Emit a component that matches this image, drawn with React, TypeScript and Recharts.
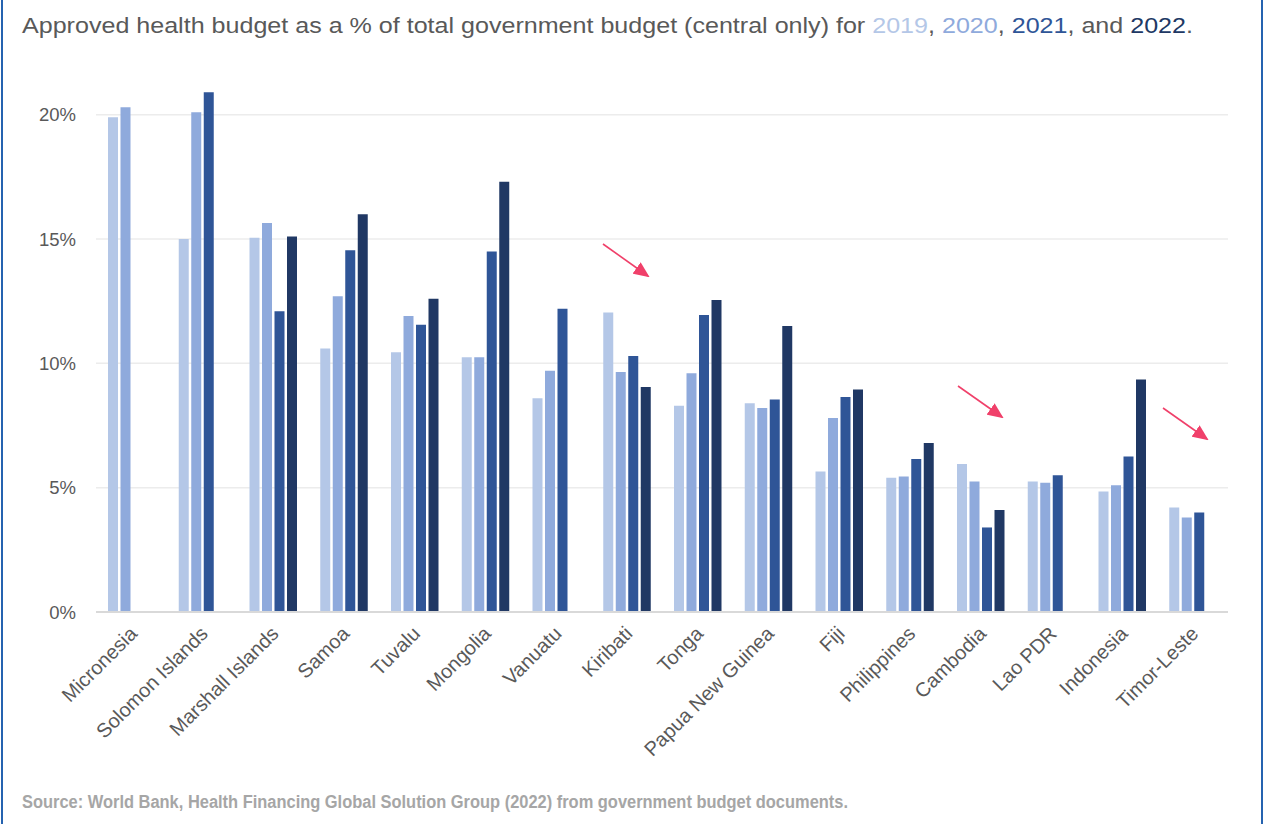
import { BarChart, Bar, XAxis, YAxis, CartesianGrid } from "recharts";

const countries = [
  "Micronesia", "Solomon Islands", "Marshall Islands", "Samoa", "Tuvalu", "Mongolia",
  "Vanuatu", "Kiribati", "Tonga", "Papua New Guinea", "Fiji", "Philippines",
  "Cambodia", "Lao PDR", "Indonesia", "Timor-Leste",
];

// share of budget, %
const y2019 = [19.9, 15.0, 15.05, 10.6, 10.45, 10.25, 8.6, 12.05, 8.3, 8.4, 5.65, 5.4, 5.95, 5.25, 4.85, 4.2];
const y2020 = [20.3, 20.1, 15.65, 12.7, 11.9, 10.25, 9.7, 9.65, 9.6, 8.2, 7.8, 5.45, 5.25, 5.2, 5.1, 3.8];
const y2021 = [null, 20.9, 12.1, 14.55, 11.55, 14.5, 12.2, 10.3, 11.95, 8.55, 8.65, 6.15, 3.4, 5.5, 6.25, 4.0];
const y2022 = [null, null, 15.1, 16.0, 12.6, 17.3, null, 9.05, 12.55, 11.5, 8.95, 6.8, 4.1, null, 9.35, null];

const yTicks = [0, 5, 10, 15, 20];

const data = countries.map((name, i) => ({
  name,
  "2019": y2019[i],
  "2020": y2020[i],
  "2021": y2021[i],
  "2022": y2022[i],
}));

const colors = { "2019": "#b4c7e7", "2020": "#8faadc", "2021": "#2f5597", "2022": "#203864" };

const font = "'Liberation Sans', Arial, sans-serif";

function XTick({ x, y, payload }: any) {
  return (
    <text
      x={x + 2}
      y={y + 10}
      transform={`rotate(-45 ${x + 2} ${y + 10})`}
      textAnchor="end"
      dominantBaseline="central"
      fontSize={20}
      fontFamily={font}
      fill="#595959"
    >
      {payload.value}
    </text>
  );
}

function Arrow({ x1, y1, x2, y2 }: { x1: number; y1: number; x2: number; y2: number }) {
  return (
    <line x1={x1} y1={y1} x2={x2} y2={y2} stroke="#f0406a" strokeWidth={1.6} markerEnd="url(#arrowhead)" />
  );
}

export default function App() {
  return (
    <div style={{ position: "absolute", left: 0, top: 0, width: 1266, height: 824, background: "#fff", fontFamily: font }}>
      <div style={{ position: "absolute", left: 1, top: 0, width: 2, height: 824, background: "#2563b0" }} />
      <div style={{ position: "absolute", left: 1261, top: 0, width: 2, height: 824, background: "#2563b0" }} />
      <BarChart
        width={1266}
        height={824}
        data={data}
        barSize={10}
        barGap={2.5}
        margin={{ top: 65, right: 38, left: 0, bottom: 62 }}
        style={{ position: "absolute", left: 0, top: 0 }}
      >
        <CartesianGrid vertical={false} horizontalValues={yTicks} stroke="#ececec" strokeWidth={1.5} />
        <XAxis
          dataKey="name"
          interval={0}
          height={150}
          tick={<XTick />}
          tickLine={false}
          axisLine={{ stroke: "#d9d9d9", strokeWidth: 2 }}
        />
        <YAxis
          width={96}
          domain={[0, 22]}
          ticks={yTicks}
          tickFormatter={(v) => `${v}%`}
          axisLine={false}
          tickLine={false}
          tickSize={0}
          tickMargin={20}
          tick={{ fontSize: 18.5, fill: "#595959", fontFamily: font }}
        />
        {(["2019", "2020", "2021", "2022"] as const).map((k) => (
          <Bar key={k} dataKey={k} fill={colors[k]} isAnimationActive={false} />
        ))}
      </BarChart>
      <svg width={1266} height={824} style={{ position: "absolute", left: 0, top: 0, pointerEvents: "none" }}>
        <defs>
          <marker id="arrowhead" markerWidth="16" markerHeight="14" refX="14" refY="7" orient="auto" markerUnits="userSpaceOnUse">
            <path d="M0,0 L16,7 L0,14 z" fill="#f0406a" />
          </marker>
        </defs>
        <text x={22} y={33} fontSize={22} fontFamily={font} fill="#595959" textLength={1171} lengthAdjust="spacingAndGlyphs">
          Approved health budget as a % of total government budget (central only) for{" "}
          <tspan fill={colors["2019"]}>2019</tspan>,{" "}
          <tspan fill={colors["2020"]}>2020</tspan>,{" "}
          <tspan fill={colors["2021"]}>2021</tspan>, and{" "}
          <tspan fill={colors["2022"]}>2022</tspan>.
        </text>
        <Arrow x1={603} y1={244} x2={648} y2={276} />
        <Arrow x1={958} y1={386} x2={1002} y2={417} />
        <Arrow x1={1163} y1={408} x2={1207} y2={439} />
        <text
          x={22}
          y={808}
          fontSize={18}
          fontWeight="bold"
          fontFamily={font}
          fill="#a6a6a6"
          textLength={826}
          lengthAdjust="spacingAndGlyphs"
        >
          Source: World Bank, Health Financing Global Solution Group (2022) from government budget documents.
        </text>
      </svg>
    </div>
  );
}
